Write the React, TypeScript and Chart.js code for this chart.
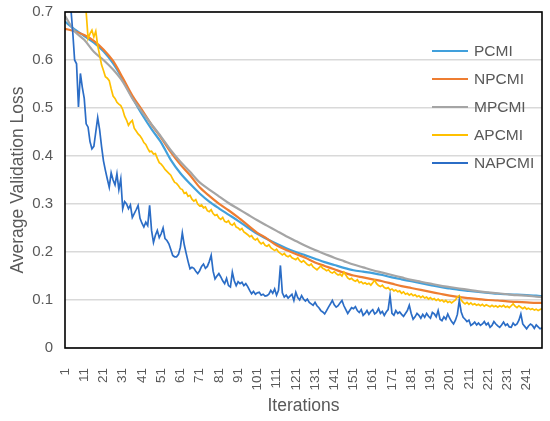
import { Chart, registerables, Plugin } from 'chart.js';
import React, { useEffect, useRef } from 'react';

Chart.register(...registerables);

const seriesNames = ['PCMI', 'NPCMI', 'MPCMI', 'APCMI', 'NAPCMI'];
const seriesColors = ['#41A0DC', '#EE7D31', '#A5A5A5', '#FFC000', '#2B6DC6'];

const xTickValues = [1, 11, 21, 31, 41, 51, 61, 71, 81, 91, 101, 111, 121, 131, 141, 151, 161, 171, 181, 191, 201, 211, 221, 231, 241];

const smoothIters = [
  1, 6, 11, 16, 21, 26, 31, 36, 41, 46, 51, 56, 61, 66, 71, 76, 81, 86, 91, 96,
  101, 106, 111, 116, 121, 126, 131, 136, 141, 146, 151, 156, 161, 166, 171, 176, 181, 186, 191, 196,
  201, 206, 211, 216, 221, 226, 231, 236, 241, 246, 249,
];

const pcmi = [
  0.680, 0.664, 0.650, 0.636, 0.618, 0.593, 0.560, 0.522, 0.487, 0.456, 0.428, 0.392, 0.364, 0.342, 0.322, 0.305, 0.291, 0.278, 0.265, 0.251,
  0.238, 0.227, 0.217, 0.208, 0.200, 0.193, 0.186, 0.179, 0.173, 0.167, 0.162, 0.159, 0.156, 0.152, 0.147, 0.143, 0.139, 0.135, 0.131, 0.127,
  0.124, 0.121, 0.119, 0.117, 0.115, 0.113, 0.112, 0.111, 0.110, 0.109, 0.108,
];

const npcmi = [
  0.665, 0.660, 0.652, 0.640, 0.622, 0.598, 0.563, 0.526, 0.496, 0.465, 0.438, 0.408, 0.382, 0.360, 0.335, 0.317, 0.301, 0.287, 0.272, 0.256,
  0.240, 0.228, 0.214, 0.204, 0.196, 0.188, 0.178, 0.171, 0.164, 0.157, 0.151, 0.147, 0.143, 0.139, 0.134, 0.129, 0.125, 0.121, 0.117, 0.113,
  0.109, 0.106, 0.104, 0.102, 0.100, 0.099, 0.097, 0.096, 0.095, 0.094, 0.094,
];

const mpcmi = [
  0.692, 0.660, 0.642, 0.617, 0.600, 0.580, 0.555, 0.520, 0.492, 0.466, 0.440, 0.412, 0.388, 0.367, 0.345, 0.330, 0.316, 0.302, 0.290, 0.278,
  0.266, 0.255, 0.244, 0.233, 0.223, 0.213, 0.204, 0.196, 0.188, 0.181, 0.174, 0.168, 0.162, 0.157, 0.152, 0.147, 0.142, 0.138, 0.134, 0.130,
  0.127, 0.124, 0.121, 0.118, 0.116, 0.114, 0.112, 0.110, 0.109, 0.107, 0.106,
];

// noisy curves: one value per iteration, 1..249
const apcmi = [
  0.84, 0.82, 0.80, 0.79, 0.77, 0.76, 0.75, 0.74, 0.73, 0.72,
  0.71, 0.70, 0.645, 0.655, 0.662, 0.648, 0.66, 0.63, 0.61, 0.59,
  0.578, 0.565, 0.562, 0.557, 0.54, 0.525, 0.52, 0.512, 0.508, 0.505,
  0.497, 0.483, 0.475, 0.464, 0.47, 0.474, 0.458, 0.452, 0.446, 0.442,
  0.436, 0.428, 0.424, 0.416, 0.409, 0.41, 0.404, 0.405, 0.395, 0.386,
  0.383, 0.378, 0.372, 0.368, 0.364, 0.36, 0.352, 0.345, 0.343, 0.338,
  0.332, 0.33, 0.322, 0.324, 0.316, 0.318, 0.31, 0.306, 0.309, 0.30,
  0.296, 0.298, 0.292, 0.294, 0.286, 0.284, 0.288, 0.28, 0.276, 0.278,
  0.271, 0.268, 0.272, 0.264, 0.262, 0.265, 0.258, 0.256, 0.26, 0.252,
  0.25, 0.246, 0.249, 0.242, 0.239, 0.236, 0.232, 0.234, 0.228, 0.225,
  0.228, 0.221, 0.217, 0.22, 0.214, 0.212, 0.215, 0.209, 0.206, 0.203,
  0.206, 0.20, 0.197, 0.194, 0.197, 0.192, 0.19, 0.193, 0.188, 0.186,
  0.184, 0.188, 0.182, 0.179, 0.182, 0.178, 0.174, 0.172, 0.175, 0.169,
  0.166, 0.163, 0.167, 0.171, 0.166, 0.164, 0.161, 0.163, 0.158, 0.156,
  0.159, 0.155, 0.152, 0.154, 0.15, 0.158, 0.152, 0.146, 0.143, 0.145,
  0.141, 0.139, 0.142, 0.136, 0.138, 0.134, 0.136, 0.133, 0.135, 0.131,
  0.136, 0.141, 0.134, 0.13, 0.128, 0.131, 0.126, 0.124, 0.126, 0.121,
  0.123, 0.119, 0.121, 0.117, 0.119, 0.114, 0.117, 0.112, 0.114, 0.11,
  0.113, 0.109, 0.111, 0.107, 0.109, 0.105, 0.108, 0.104, 0.106, 0.102,
  0.105, 0.101, 0.103, 0.099, 0.102, 0.098, 0.10, 0.096, 0.099, 0.095,
  0.097, 0.094, 0.097, 0.10, 0.106, 0.109, 0.10, 0.095, 0.092, 0.095,
  0.091, 0.094, 0.09, 0.092, 0.089, 0.091, 0.088, 0.091, 0.087, 0.09,
  0.088, 0.086, 0.089, 0.086, 0.088, 0.085, 0.088, 0.086, 0.089, 0.085,
  0.087, 0.084, 0.088, 0.092, 0.087, 0.084, 0.088, 0.085, 0.082, 0.085,
  0.081, 0.083, 0.08, 0.082, 0.079, 0.081, 0.078, 0.08, 0.082,
];

const napcmi = [
  0.90, 0.82, 0.76, 0.71, 0.66, 0.60, 0.592, 0.502, 0.572, 0.543,
  0.52, 0.467, 0.46, 0.43, 0.415, 0.42, 0.45, 0.48, 0.455, 0.42,
  0.39, 0.37, 0.352, 0.335, 0.365, 0.35, 0.34, 0.363, 0.33, 0.352,
  0.29, 0.305, 0.30, 0.29, 0.298, 0.272, 0.28, 0.288, 0.297, 0.27,
  0.26, 0.252, 0.262, 0.255, 0.297, 0.245, 0.22, 0.235, 0.245, 0.23,
  0.238, 0.25, 0.228, 0.224, 0.217, 0.205, 0.193, 0.19, 0.19, 0.195,
  0.21, 0.24, 0.215, 0.197, 0.18, 0.165, 0.168, 0.166, 0.16, 0.155,
  0.161, 0.17, 0.175, 0.166, 0.17, 0.18, 0.193, 0.16, 0.144, 0.15,
  0.155, 0.148, 0.14, 0.134, 0.145, 0.13, 0.127, 0.158, 0.14, 0.13,
  0.138, 0.134, 0.137, 0.13, 0.134, 0.128, 0.12, 0.113, 0.118, 0.112,
  0.115, 0.116, 0.11, 0.112, 0.108, 0.109, 0.112, 0.12, 0.114, 0.123,
  0.11, 0.12, 0.172, 0.115, 0.106, 0.11, 0.104, 0.108, 0.112, 0.099,
  0.116, 0.105, 0.10, 0.109, 0.102, 0.098, 0.102, 0.095, 0.092, 0.089,
  0.095, 0.088, 0.084, 0.078, 0.075, 0.071, 0.078, 0.085, 0.092, 0.099,
  0.09, 0.085, 0.088, 0.094, 0.099, 0.088, 0.08, 0.072, 0.078, 0.084,
  0.082, 0.086, 0.078, 0.074, 0.08, 0.068, 0.072, 0.078, 0.07, 0.076,
  0.08, 0.071, 0.074, 0.082, 0.072, 0.076, 0.068, 0.075, 0.08, 0.109,
  0.072, 0.068, 0.078, 0.072, 0.075, 0.07, 0.066, 0.072, 0.078, 0.089,
  0.072, 0.06, 0.065, 0.072, 0.068, 0.062, 0.07, 0.064, 0.072, 0.066,
  0.062, 0.074, 0.071, 0.065, 0.078, 0.06, 0.057, 0.065, 0.06, 0.071,
  0.062, 0.055, 0.05, 0.058, 0.07, 0.099, 0.075, 0.064, 0.06, 0.055,
  0.058, 0.047, 0.05, 0.054, 0.048, 0.052, 0.047, 0.05, 0.055, 0.048,
  0.052, 0.043, 0.047, 0.055, 0.05, 0.046, 0.043, 0.048, 0.054, 0.047,
  0.05, 0.044, 0.043, 0.052, 0.047, 0.05, 0.058, 0.071, 0.05, 0.045,
  0.04, 0.046, 0.05, 0.047, 0.041, 0.048, 0.044, 0.04, 0.042,
];

const FONT = '"Liberation Sans", Arial, Helvetica, sans-serif';
const TEXT = '#595959';

const smoothPoints = (vals: number[]) => vals.map((y, i) => ({ x: smoothIters[i], y }));
const perIterPoints = (vals: number[]) => vals.map((y, i) => ({ x: i + 1, y }));

// box round the plot and the legend inside its top-right corner
const framePlugin: Plugin = {
  id: 'frame',
  afterDraw(chart) {
    const { ctx, chartArea } = chart;
    ctx.save();
    ctx.strokeStyle = '#000';
    ctx.lineWidth = 1.6;
    ctx.strokeRect(chartArea.left, chartArea.top, chartArea.right - chartArea.left, chartArea.bottom - chartArea.top);

    const x0 = chartArea.right - 110;
    ctx.font = `15.5px ${FONT}`;
    ctx.textBaseline = 'middle';
    chart.data.datasets.forEach((ds, i) => {
      const y = chartArea.top + 39 + i * 28;
      ctx.strokeStyle = ds.borderColor as string;
      ctx.lineWidth = 2;
      ctx.beginPath();
      ctx.moveTo(x0, y);
      ctx.lineTo(x0 + 36, y);
      ctx.stroke();
      ctx.fillStyle = TEXT;
      ctx.fillText(ds.label as string, x0 + 42, y + 1);
    });
    ctx.restore();
  },
};

const LossChart: React.FC = () => {
  const canvasRef = useRef<HTMLCanvasElement | null>(null);

  useEffect(() => {
    const canvas = canvasRef.current;
    if (!canvas) return;

    const chart = new Chart(canvas, {
      type: 'line',
      data: {
        datasets: [
          { label: seriesNames[0], data: smoothPoints(pcmi), borderColor: seriesColors[0], borderWidth: 2.2, tension: 0.3, order: 5 },
          { label: seriesNames[1], data: smoothPoints(npcmi), borderColor: seriesColors[1], borderWidth: 2.2, tension: 0.3, order: 4 },
          { label: seriesNames[2], data: smoothPoints(mpcmi), borderColor: seriesColors[2], borderWidth: 2.2, tension: 0.3, order: 3 },
          { label: seriesNames[3], data: perIterPoints(apcmi), borderColor: seriesColors[3], borderWidth: 1.7, order: 2 },
          { label: seriesNames[4], data: perIterPoints(napcmi), borderColor: seriesColors[4], borderWidth: 1.7, order: 1 },
        ],
      },
      options: {
        animation: false,
        responsive: false,
        devicePixelRatio: 1,
        layout: { padding: { top: 12, right: 8, left: 0, bottom: 0 } },
        elements: { point: { radius: 0 } },
        plugins: { legend: { display: false }, tooltip: { enabled: false } },
        scales: {
          x: {
            type: 'linear',
            min: 1,
            max: 249,
            grid: { display: false },
            border: { display: false },
            afterBuildTicks: (axis) => {
              axis.ticks = xTickValues.map((value) => ({ value }));
            },
            afterFit: (axis) => {
              axis.height = 73;
              axis.paddingLeft = 0;
              axis.paddingRight = 0;
            },
            ticks: {
              autoSkip: false,
              minRotation: 90,
              maxRotation: 90,
              padding: 12,
              color: TEXT,
              font: { family: FONT, size: 13.5 },
            },
            title: {
              display: true,
              text: 'Iterations',
              color: TEXT,
              font: { family: FONT, size: 17.5 },
              padding: { top: 0, bottom: 4.5 },
            },
          },
          y: {
            min: 0,
            max: 0.7,
            border: { display: false },
            grid: { color: '#D9D9D9', lineWidth: 1.5, drawTicks: false },
            afterFit: (axis) => {
              axis.width = 65;
              axis.paddingTop = 0;
              axis.paddingBottom = 0;
            },
            ticks: {
              stepSize: 0.1,
              padding: 12,
              color: TEXT,
              font: { family: FONT, size: 15 },
              callback: (v) => String(Math.round(Number(v) * 10) / 10),
            },
            title: {
              display: true,
              text: 'Average Validation Loss',
              color: TEXT,
              font: { family: FONT, size: 17.5 },
              padding: { top: 7.5, bottom: 0 },
            },
          },
        },
      },
      plugins: [framePlugin],
    });

    return () => {
      chart.destroy();
    };
  }, []);

  return <canvas ref={canvasRef} width={550} height={421} />;
};

export default function App() {
  useEffect(() => {
    document.body.style.margin = '0';
  }, []);
  return (
    <div style={{ width: 550, height: 421, background: '#fff' }}>
      <LossChart />
    </div>
  );
}
